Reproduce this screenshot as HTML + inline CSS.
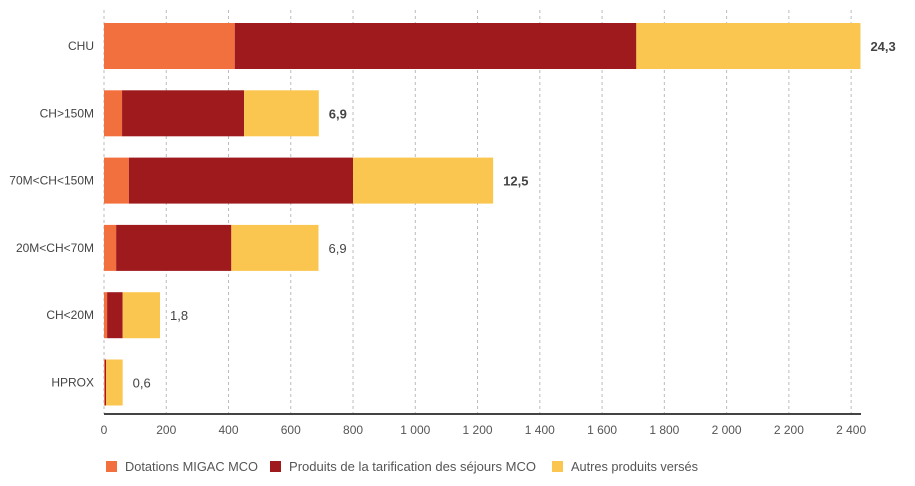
<!DOCTYPE html>
<html><head><meta charset="utf-8"><style>
body{margin:0;background:#fff;font-family:"Liberation Sans",sans-serif;}
svg{display:block}
</style></head><body>
<svg id="chart" width="915" height="486"></svg>
<script>
const categories=["CHU","CH>150M","70M<CH<150M","20M<CH<70M","CH<20M","HPROX"];
const migac=[420,58,80,39,10,3];
const tarif=[1290,392,720,370,50,4];
const autres=[720,240,450,280,120,53];
const totals=["24,3","6,9","12,5","6,9","1,8","0,6"];
const boldTotals=[true,true,true,false,false,false];
const ticks=[0,200,400,600,800,1000,1200,1400,1600,1800,2000,2200,2400];
const tickLabels=["0","200","400","600","800","1 000","1 200","1 400","1 600","1 800","2 000","2 200","2 400"];
const seriesNames=["Dotations MIGAC MCO","Produits de la tarification des séjours MCO","Autres produits versés"];
const colors=["#f26f3e","#9e1a1d","#fbc650"];
const NS="http://www.w3.org/2000/svg";
const svg=document.getElementById('chart');
const x0=104,kx=0.3113,yTop=23,step=67.3,bh=46,axisY=414;
const X=v=>x0+v*kx;
function el(t,a,txt){const e=document.createElementNS(NS,t);for(const k in a)e.setAttribute(k,a[k]);if(txt!==undefined)e.textContent=txt;svg.appendChild(e);return e;}
ticks.forEach((t,i)=>{
 const g=el('line',{x1:X(t),x2:X(t),y1:10,y2:axisY,stroke:'#bbb','stroke-dasharray':'3,3'});
 
 
 const l=el('text',{x:X(t),y:434,'font-size':12,fill:'#555','text-anchor':'middle'},tickLabels[i]);
 
 
});
const series=[migac,tarif,autres];
categories.forEach((c,i)=>{
 const y=yTop+i*step;
 const lab=el('text',{x:94,y:y+bh/2+4,'font-size':12,fill:'#444','text-anchor':'end'},c);
 
 
 let acc=0;
 series.forEach((s,j)=>{
  const r=el('rect',{x:X(acc),y:y,width:Math.max(0,X(acc+s[i])-X(acc)),height:bh,fill:colors[j]});
  
  
  acc+=s[i];
 });
 const t=el('text',{x:X(acc)+10,y:y+bh/2+5,'font-size':13,fill:'#444','font-weight':boldTotals[i]?'bold':'normal'},totals[i]);
 
 
});
const ax=el('line',{x1:x0,x2:861,y1:axisY,y2:axisY,stroke:'#444','stroke-width':2});


const lx=[106,270,552];
const lw=[133,247,127];
seriesNames.forEach((n,j)=>{
 const r=el('rect',{x:lx[j],y:461,width:11,height:11,fill:colors[j]});
 
 
 const t=el('text',{x:lx[j]+19,y:471,'font-size':13,fill:'#555',textLength:lw[j],lengthAdjust:'spacingAndGlyphs'},n);
 
 
});
</script>
</body></html>
